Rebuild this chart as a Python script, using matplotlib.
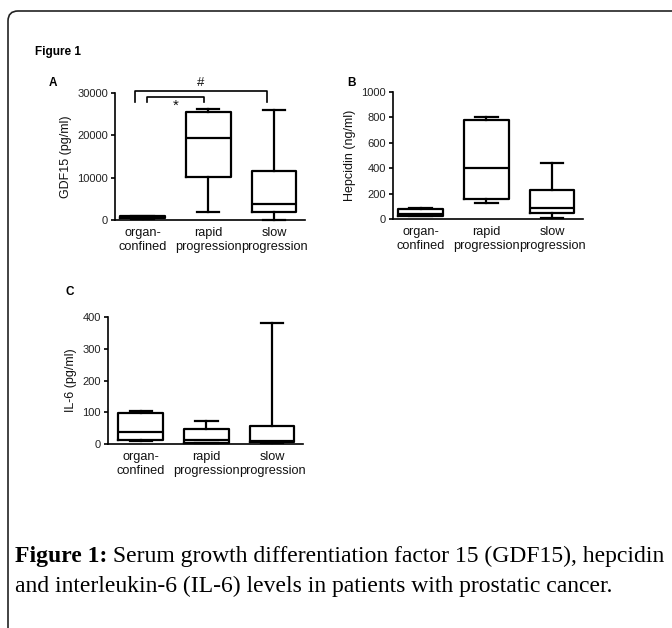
import matplotlib.pyplot as plt
from matplotlib.patches import FancyBboxPatch

plt.rcParams['font.family'] = ['Liberation Sans', 'DejaVu Sans']

groups = ['organ-\nconfined', 'rapid\nprogression', 'slow\nprogression']

# box stats: (min, q1, median, q3, max)
gdf15 = [(200, 400, 600, 900, 1000),
         (1900, 10200, 19300, 25500, 26200),
         (0, 1800, 3700, 11500, 26000)]
hepcidin = [(20, 25, 40, 78, 87),
            (126, 157, 400, 780, 803),
            (5, 45, 87, 228, 440)]
il6 = [(8, 13, 37, 99, 105),
       (2, 4, 13, 46, 72),
       (3, 5, 10, 58, 380)]

gdf15_ticks = [0, 10000, 20000, 30000]
hepcidin_ticks = [0, 200, 400, 600, 800, 1000]
il6_ticks = [0, 100, 200, 300, 400]

caption_bold = 'Figure 1:'
caption_1 = ' Serum growth differentiation factor 15 (GDF15), hepcidin'
caption_2 = 'and interleukin-6 (IL-6) levels in patients with prostatic cancer.'

fig = plt.figure(figsize=(6.72, 6.28), dpi=100)

# rounded frame, cut off at the right and bottom
frame = FancyBboxPatch((0.08, -0.6), 7.0, 6.77, boxstyle='round,pad=0,rounding_size=0.1',
                       transform=fig.dpi_scale_trans, fill=False, lw=1.2, ec='#222222')
fig.patches.append(frame)


def box_panel(rect, stats, ticks, ylabel, xlim):
    ax = fig.add_axes(rect)
    bxp_stats = []
    for s, name in zip(stats, groups):
        bxp_stats.append({'whislo': s[0], 'q1': s[1], 'med': s[2], 'q3': s[3],
                          'whishi': s[4], 'label': name, 'fliers': []})
    lw = 1.6
    arts = ax.bxp(bxp_stats, positions=[0, 1, 2], widths=0.68, capwidths=0.34,
                  showfliers=False,
                  boxprops=dict(lw=lw, color='black'),
                  whiskerprops=dict(lw=lw, color='black'),
                  capprops=dict(lw=lw, color='black'),
                  medianprops=dict(lw=lw, color='black'))
    for k in arts:
        for a in arts[k]:
            a.set_clip_on(False)
    ax.set_ylim(ticks[0], ticks[-1])
    ax.set_yticks(ticks)
    ax.set_xlim(*xlim)
    ax.spines['top'].set_visible(False)
    ax.spines['right'].set_visible(False)
    ax.spines['left'].set_linewidth(1.2)
    ax.spines['bottom'].set_linewidth(1.2)
    ax.tick_params(axis='y', length=3, width=1.2, labelsize=8, labelcolor='#222222', pad=2)
    ax.tick_params(axis='x', length=0, labelsize=9.2, labelcolor='#111111', pad=5)
    ax.set_ylabel(ylabel, fontsize=9, color='#111111', labelpad=4)
    return ax


axA = box_panel([0.1711, 0.6497, 0.2827, 0.2022], gdf15, gdf15_ticks, 'GDF15 (pg/ml)', (-0.42, 2.47))
axB = box_panel([0.5848, 0.6513, 0.2827, 0.2022], hepcidin, hepcidin_ticks, 'Hepcidin (ng/ml)', (-0.42, 2.47))
axC = box_panel([0.1607, 0.2930, 0.2902, 0.2022], il6, il6_ticks, 'IL-6 (pg/ml)', (-0.5, 2.47))

# significance brackets on panel A
def bracket(ax, x0, x1, y_top, y_leg, text, ty, size):
    ax.plot([x0, x0, x1, x1], [y_leg, y_top, y_top, y_leg], color='black', lw=1.2, clip_on=False)
    ax.text((x0 + x1) / 2, ty, text, ha='center', va='center', fontsize=size, color='#111111')

bracket(axA, -0.11, 1.89, 30470, 27870, '#', 32400, 9.5)
bracket(axA, 0.06, 0.94, 29050, 27870, '*', 26900, 11)

fig.text(35 / 672, 1 - 52 / 628, 'Figure 1', fontsize=8.5, fontweight='bold', va='center')
fig.text(49 / 672, 1 - 83 / 628, 'A', fontsize=8.5, fontweight='bold', va='center')
fig.text(347 / 672, 1 - 83 / 628, 'B', fontsize=8.5, fontweight='bold', va='center')
fig.text(65 / 672, 1 - 292 / 628, 'C', fontsize=8.5, fontweight='bold', va='center')

serif = ['Liberation Serif', 'DejaVu Serif']
cap_size = 17
t1 = fig.text(15 / 672, 1 - 562 / 628, caption_bold, fontsize=cap_size, fontweight='bold',
              family=serif, va='baseline')
t2 = fig.text(0, 1 - 562 / 628, caption_1, fontsize=cap_size, family=serif, va='baseline')
renderer = fig.canvas.get_renderer()
bb = t1.get_window_extent(renderer)
t2.set_x(bb.x1 / fig.bbox.width)
fig.text(15 / 672, 1 - 592 / 628, caption_2, fontsize=cap_size, family=serif, va='baseline')

plt.savefig('out.png', dpi=100)
